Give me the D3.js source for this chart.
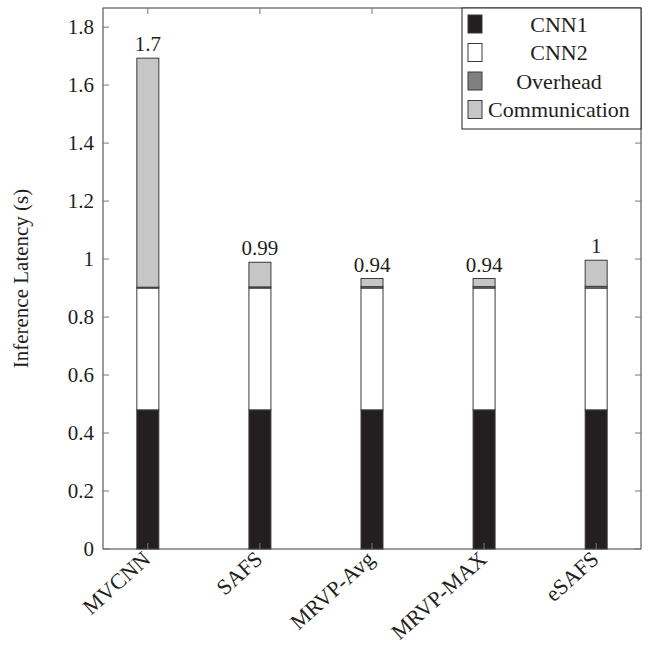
<!DOCTYPE html>
<html>
<head>
<meta charset="utf-8">
<script src="https://cdn.jsdelivr.net/npm/d3@7"></script>
<style>
  body { margin: 0; background: #fff; }
  svg text { font-family: "Liberation Serif", "Times New Roman", Times, serif; fill: #231f20; }
</style>
</head>
<body>
<div id="chart"></div>
<script>
const categories = ['MVCNN', 'SAFS', 'MRVP-Avg', 'MRVP-MAX', 'eSAFS'];
const cnn1 = [0.48, 0.48, 0.48, 0.48, 0.48];
const cnn2 = [0.42, 0.42, 0.42, 0.42, 0.42];
const overhead = [0.003, 0.004, 0.005, 0.005, 0.006];
const communication = [0.79, 0.085, 0.028, 0.028, 0.09];
const totalLabels = ['1.7', '0.99', '0.94', '0.94', '1'];
const yTicks = [0, 0.2, 0.4, 0.6, 0.8, 1, 1.2, 1.4, 1.6, 1.8];
const seriesNames = ['CNN1', 'CNN2', 'Overhead', 'Communication'];
const seriesColors = ['#231f20', '#ffffff', '#808080', '#c6c6c6'];

function drawChart() {
  const width = 650;
  const height = 647;
  const margin = { top: 8, right: 9, bottom: 98, left: 103 };
  const font = '"Liberation Serif", "Times New Roman", serif';

  const svg = d3.select('#chart').append('svg')
    .attr('width', width)
    .attr('height', height)
    .attr('font-family', font);

  const x = d3.scalePoint()
    .domain(categories)
    .range([margin.left, width - margin.right])
    .padding(0.4);

  const y = d3.scaleLinear()
    .domain([0, 1.866])
    .range([height - margin.bottom, margin.top]);

  const rows = categories.map((c, i) => ({
    cat: c, CNN1: cnn1[i], CNN2: cnn2[i], Overhead: overhead[i], Communication: communication[i]
  }));
  const stacked = d3.stack().keys(seriesNames)(rows);
  const barWidth = 22;

  stacked.forEach((layer, k) => {
    svg.append('g').selectAll('rect')
      .data(layer)
      .enter().append('rect')
        .attr('x', d => x(d.data.cat) - barWidth / 2)
        .attr('y', d => y(d[1]))
        .attr('width', barWidth)
        .attr('height', d => y(d[0]) - y(d[1]))
        .attr('fill', seriesColors[k])
        .attr('stroke', '#3a3a3a')
        .attr('stroke-width', 1);
  });

  // value labels on top of each stack
  const top = stacked[stacked.length - 1];
  svg.append('g').selectAll('text')
    .data(top)
    .enter().append('text')
      .attr('x', d => x(d.data.cat))
      .attr('y', d => y(d[1]) - 7)
      .attr('text-anchor', 'middle')
      .attr('font-size', 21)
      .text((d, i) => totalLabels[i]);

  // frame
  const x0 = margin.left, x1 = width - margin.right;
  const y0 = height - margin.bottom, y1 = margin.top;
  svg.append('rect')
    .attr('x', x0).attr('y', y1)
    .attr('width', x1 - x0).attr('height', y0 - y1)
    .attr('fill', 'none').attr('stroke', '#3a3a3a').attr('stroke-width', 1);

  // y ticks (inward, both sides)
  const yAxis = svg.append('g');
  yTicks.forEach(t => {
    yAxis.append('line').attr('x1', x0).attr('x2', x0 + 6)
      .attr('y1', y(t)).attr('y2', y(t)).attr('stroke', '#777');
    yAxis.append('line').attr('x1', x1).attr('x2', x1 - 6)
      .attr('y1', y(t)).attr('y2', y(t)).attr('stroke', '#777');
    yAxis.append('text')
      .attr('x', x0 - 9).attr('y', y(t))
      .attr('dy', '0.35em')
      .attr('text-anchor', 'end')
      .attr('font-size', 21)
      .text(d3.format('~g')(t));
  });

  // x ticks (inward, top and bottom) + rotated labels
  const xAxis = svg.append('g');
  categories.forEach(c => {
    xAxis.append('line').attr('x1', x(c)).attr('x2', x(c))
      .attr('y1', y1).attr('y2', y1 + 6).attr('stroke', '#777');
    xAxis.append('line').attr('x1', x(c)).attr('x2', x(c))
      .attr('y1', y0).attr('y2', y0 - 6).attr('stroke', '#777');
    xAxis.append('text')
      .attr('transform', `translate(${x(c) + 4},${y0 + 12}) rotate(-42)`)
      .attr('text-anchor', 'end')
      .attr('font-size', 22)
      .text(c);
  });

  svg.append('text')
    .attr('transform', `translate(28,${(y0 + y1) / 2}) rotate(-90)`)
    .attr('text-anchor', 'middle')
    .attr('font-size', 21)
    .text('Inference Latency (s)');

  // legend
  const lg = svg.append('g');
  lg.append('rect')
    .attr('x', 462).attr('y', y1)
    .attr('width', x1 - 462).attr('height', 121)
    .attr('fill', '#fff').attr('stroke', '#231f20').attr('stroke-width', 1);
  seriesNames.forEach((name, i) => {
    const cy = 24 + i * 28.5;
    lg.append('rect')
      .attr('x', 468).attr('y', cy - 9)
      .attr('width', 14).attr('height', 18)
      .attr('fill', seriesColors[i])
      .attr('stroke', '#3a3a3a');
    lg.append('text')
      .attr('x', 559).attr('y', cy)
      .attr('dy', '0.35em')
      .attr('text-anchor', 'middle')
      .attr('font-size', 22)
      .text(name);
  });
}

drawChart();
</script>
</body>
</html>
